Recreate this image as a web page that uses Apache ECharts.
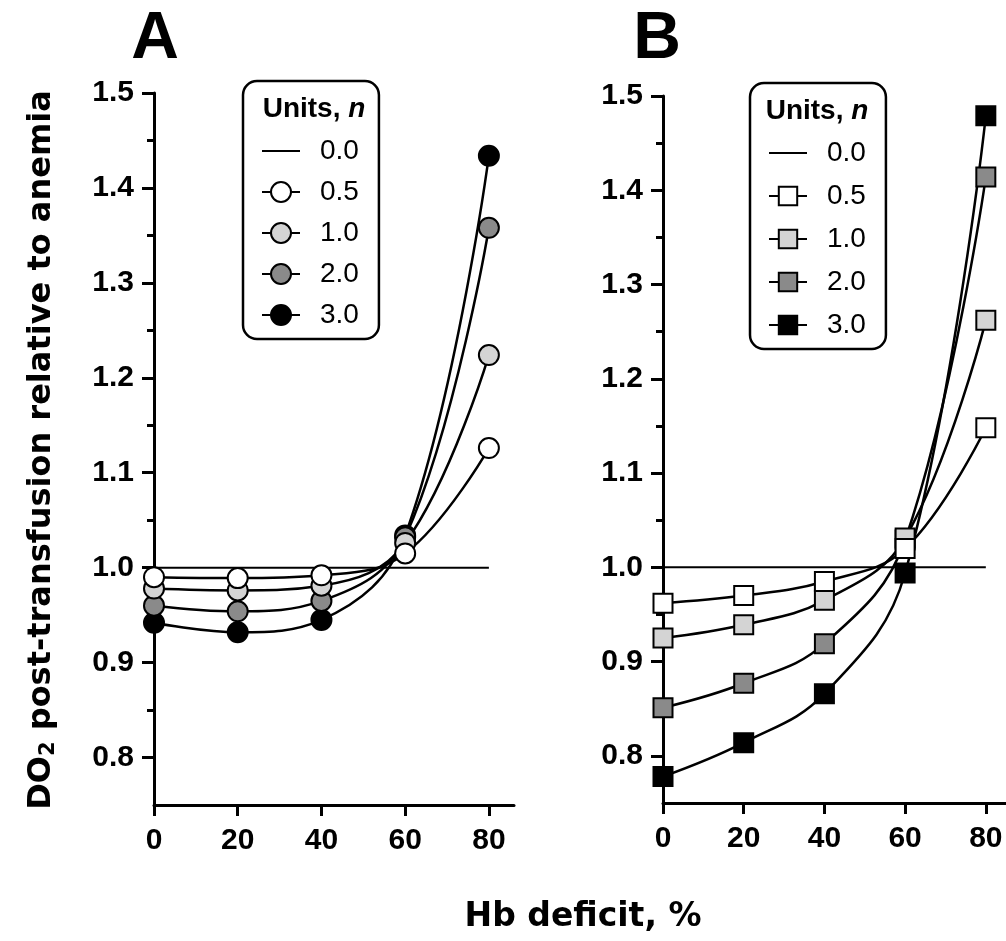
<!DOCTYPE html>
<html>
<head>
<meta charset="utf-8">
<script src="https://cdn.jsdelivr.net/npm/echarts@6/dist/echarts.min.js"></script>
<style>
html, body { margin: 0; padding: 0; background: #fff; }
#chart { width: 1006px; height: 941px; }
</style>
</head>
<body>
<div id="chart"></div>
<script>
// Hb deficit (%) at which DO2 was computed
var hbDeficit = [0, 20, 40, 60, 80];

// panel A (circles)
var aUnits05 = [0.990, 0.989, 0.992, 1.015, 1.126];
var aUnits10 = [0.978, 0.976, 0.981, 1.026, 1.224];
var aUnits20 = [0.960, 0.954, 0.965, 1.032, 1.358];
var aUnits30 = [0.942, 0.932, 0.945, 1.034, 1.434];

// panel B (squares)
var bUnits05 = [0.962, 0.970, 0.985, 1.020, 1.148];
var bUnits10 = [0.925, 0.939, 0.965, 1.031, 1.262];
var bUnits20 = [0.851, 0.877, 0.919, 1.029, 1.414];
var bUnits30 = [0.778, 0.814, 0.866, 0.994, 1.479];

// n = 0 reference line
var refLine = [1.0, 1.0];
var refX = [0, 80];

var xTickValues = [0, 20, 40, 60, 80];
var yLabelValues = [0.8, 0.9, 1.0, 1.1, 1.2, 1.3, 1.4, 1.5];
var yMinorValues = [0.85, 0.95, 1.05, 1.15, 1.25, 1.35, 1.45];

var unitLabels = ['0.0', '0.5', '1.0', '2.0', '3.0'];
var fills = ['#ffffff', '#d4d4d4', '#8a8a8a', '#000000'];

var myChart = echarts.init(document.getElementById('chart'), null, { renderer: 'canvas' });

var tickFont = 'Liberation Sans';
var nameFont = 'DejaVu Sans';

function xAxisFor(gridIndex, max) {
    return {
        type: 'value',
        gridIndex: gridIndex,
        min: 0,
        max: max,
        axisLine: { show: true, onZero: false, lineStyle: { color: '#000', width: 3 } },
        axisTick: { show: true, length: 11, customValues: xTickValues, lineStyle: { color: '#000', width: 3 } },
        axisLabel: {
            customValues: xTickValues,
            margin: 21,
            color: '#000',
            fontSize: 30,
            fontWeight: 'bold',
            fontFamily: tickFont
        },
        splitLine: { show: false }
    };
}

function yAxisFor(gridIndex, minor) {
    return {
        type: 'value',
        gridIndex: gridIndex,
        min: 0.75,
        max: 1.5,
        position: 'left',
        offset: 0,
        axisLine: { show: !minor, onZero: false, lineStyle: { color: '#000', width: 3 } },
        axisTick: {
            show: true,
            length: minor ? 7 : 12,
            customValues: minor ? yMinorValues : yLabelValues,
            lineStyle: { color: '#000', width: 3 }
        },
        axisLabel: {
            show: !minor,
            customValues: yLabelValues,
            formatter: function (v) { return v.toFixed(1); },
            margin: 20,
            color: '#000',
            fontSize: 30,
            fontWeight: 'bold',
            fontFamily: tickFont
        },
        splitLine: { show: false }
    };
}

function pairs(xs, ys) {
    return xs.map(function (x, i) { return [x, ys[i]]; });
}

function curve(name, values, fill, symbol, size, axisIndex) {
    return {
        name: name,
        type: 'line',
        xAxisIndex: axisIndex,
        yAxisIndex: axisIndex * 2,
        data: pairs(hbDeficit, values),
        smooth: 0.4,
        symbol: symbol,
        symbolSize: size,
        showSymbol: true,
        clip: false,
        lineStyle: { color: '#000', width: 2.5 },
        itemStyle: { color: fill, borderColor: '#000', borderWidth: 2 },
        emphasis: { disabled: true }
    };
}

// plain line, no marker (marker is made transparent so the legend shows only the line)
function refSeries(name, axisIndex) {
    return {
        name: name,
        type: 'line',
        xAxisIndex: axisIndex,
        yAxisIndex: axisIndex * 2,
        data: pairs(refX, refLine),
        symbol: 'circle',
        symbolSize: 1,
        showSymbol: false,
        clip: false,
        lineStyle: { color: '#000', width: 2 },
        itemStyle: { color: 'rgba(0,0,0,0)', borderColor: 'rgba(0,0,0,0)', borderWidth: 0 },
        emphasis: { disabled: true },
        z: 1
    };
}

function legendFor(prefix, left, top, gap, iconH) {
    return {
        data: unitLabels.map(function (u) { return prefix + u; }),
        orient: 'vertical',
        left: left,
        top: top,
        padding: [56, 20, 10, 18],
        itemWidth: 38,
        itemHeight: iconH,
        itemGap: gap,
        selectedMode: false,
        borderColor: '#000',
        borderWidth: 2.5,
        borderRadius: 14,
        formatter: function (n) { return '{g|}' + n.slice(1); },
        textStyle: {
            color: '#000',
            fontSize: 28,
            lineHeight: 28,
            fontFamily: tickFont,
            rich: { g: { width: 15 } }
        }
    };
}

myChart.setOption({
    animation: false,
    backgroundColor: '#fff',
    grid: [
        { left: 154, top: 93, width: 360, height: 712 },
        { left: 663, top: 96, width: 343, height: 707 }
    ],
    xAxis: [xAxisFor(0, 86), xAxisFor(1, 85)],
    yAxis: [yAxisFor(0, false), yAxisFor(0, true), yAxisFor(1, false), yAxisFor(1, true)],
    legend: [
        legendFor('A', 243, 81, 13, 25),
        legendFor('B', 750, 83, 15, 23)
    ],
    series: [
        refSeries('A0.0', 0),
        curve('A3.0', aUnits30, fills[3], 'circle', 20, 0),
        curve('A2.0', aUnits20, fills[2], 'circle', 20, 0),
        curve('A1.0', aUnits10, fills[1], 'circle', 20, 0),
        curve('A0.5', aUnits05, fills[0], 'circle', 20, 0),
        refSeries('B0.0', 1),
        curve('B3.0', bUnits30, fills[3], 'rect', 19, 1),
        curve('B2.0', bUnits20, fills[2], 'rect', 19, 1),
        curve('B1.0', bUnits10, fills[1], 'rect', 19, 1),
        curve('B0.5', bUnits05, fills[0], 'rect', 19, 1)
    ],
    graphic: [
        {
            type: 'text', x: 155, y: 40,
            style: { text: 'A', fontSize: 66, fontWeight: 'bold', fontFamily: tickFont, fill: '#000', align: 'center', verticalAlign: 'middle' }
        },
        {
            type: 'text', x: 657, y: 40,
            style: { text: 'B', fontSize: 66, fontWeight: 'bold', fontFamily: tickFont, fill: '#000', align: 'center', verticalAlign: 'middle' }
        },
        {
            type: 'text', x: 314, y: 109,
            style: {
                text: '{b|Units, }{i|n}', align: 'center', verticalAlign: 'middle',
                rich: {
                    b: { fontSize: 28, fontWeight: 'bold', fontFamily: tickFont, fill: '#000' },
                    i: { fontSize: 28, fontWeight: 'bold', fontStyle: 'italic', fontFamily: tickFont, fill: '#000' }
                }
            }
        },
        {
            type: 'text', x: 817, y: 111,
            style: {
                text: '{b|Units, }{i|n}', align: 'center', verticalAlign: 'middle',
                rich: {
                    b: { fontSize: 28, fontWeight: 'bold', fontFamily: tickFont, fill: '#000' },
                    i: { fontSize: 28, fontWeight: 'bold', fontStyle: 'italic', fontFamily: tickFont, fill: '#000' }
                }
            }
        },
        {
            type: 'text', x: 42, y: 450, rotation: Math.PI / 2,
            style: {
                text: '{m|DO}{s|2}{m| post-transfusion relative to anemia}',
                align: 'center', verticalAlign: 'middle',
                rich: {
                    m: { fontSize: 32, fontWeight: 'bold', fontFamily: nameFont, fill: '#000', lineHeight: 35 },
                    s: { fontSize: 21, fontWeight: 'bold', fontFamily: nameFont, fill: '#000', lineHeight: 35, verticalAlign: 'bottom' }
                }
            }
        },
        {
            type: 'text', x: 583, y: 917,
            style: { text: 'Hb deficit, %', fontSize: 33, fontWeight: 'bold', fontFamily: nameFont, fill: '#000', align: 'center', verticalAlign: 'middle' }
        }
    ]
});
</script>
</body>
</html>
